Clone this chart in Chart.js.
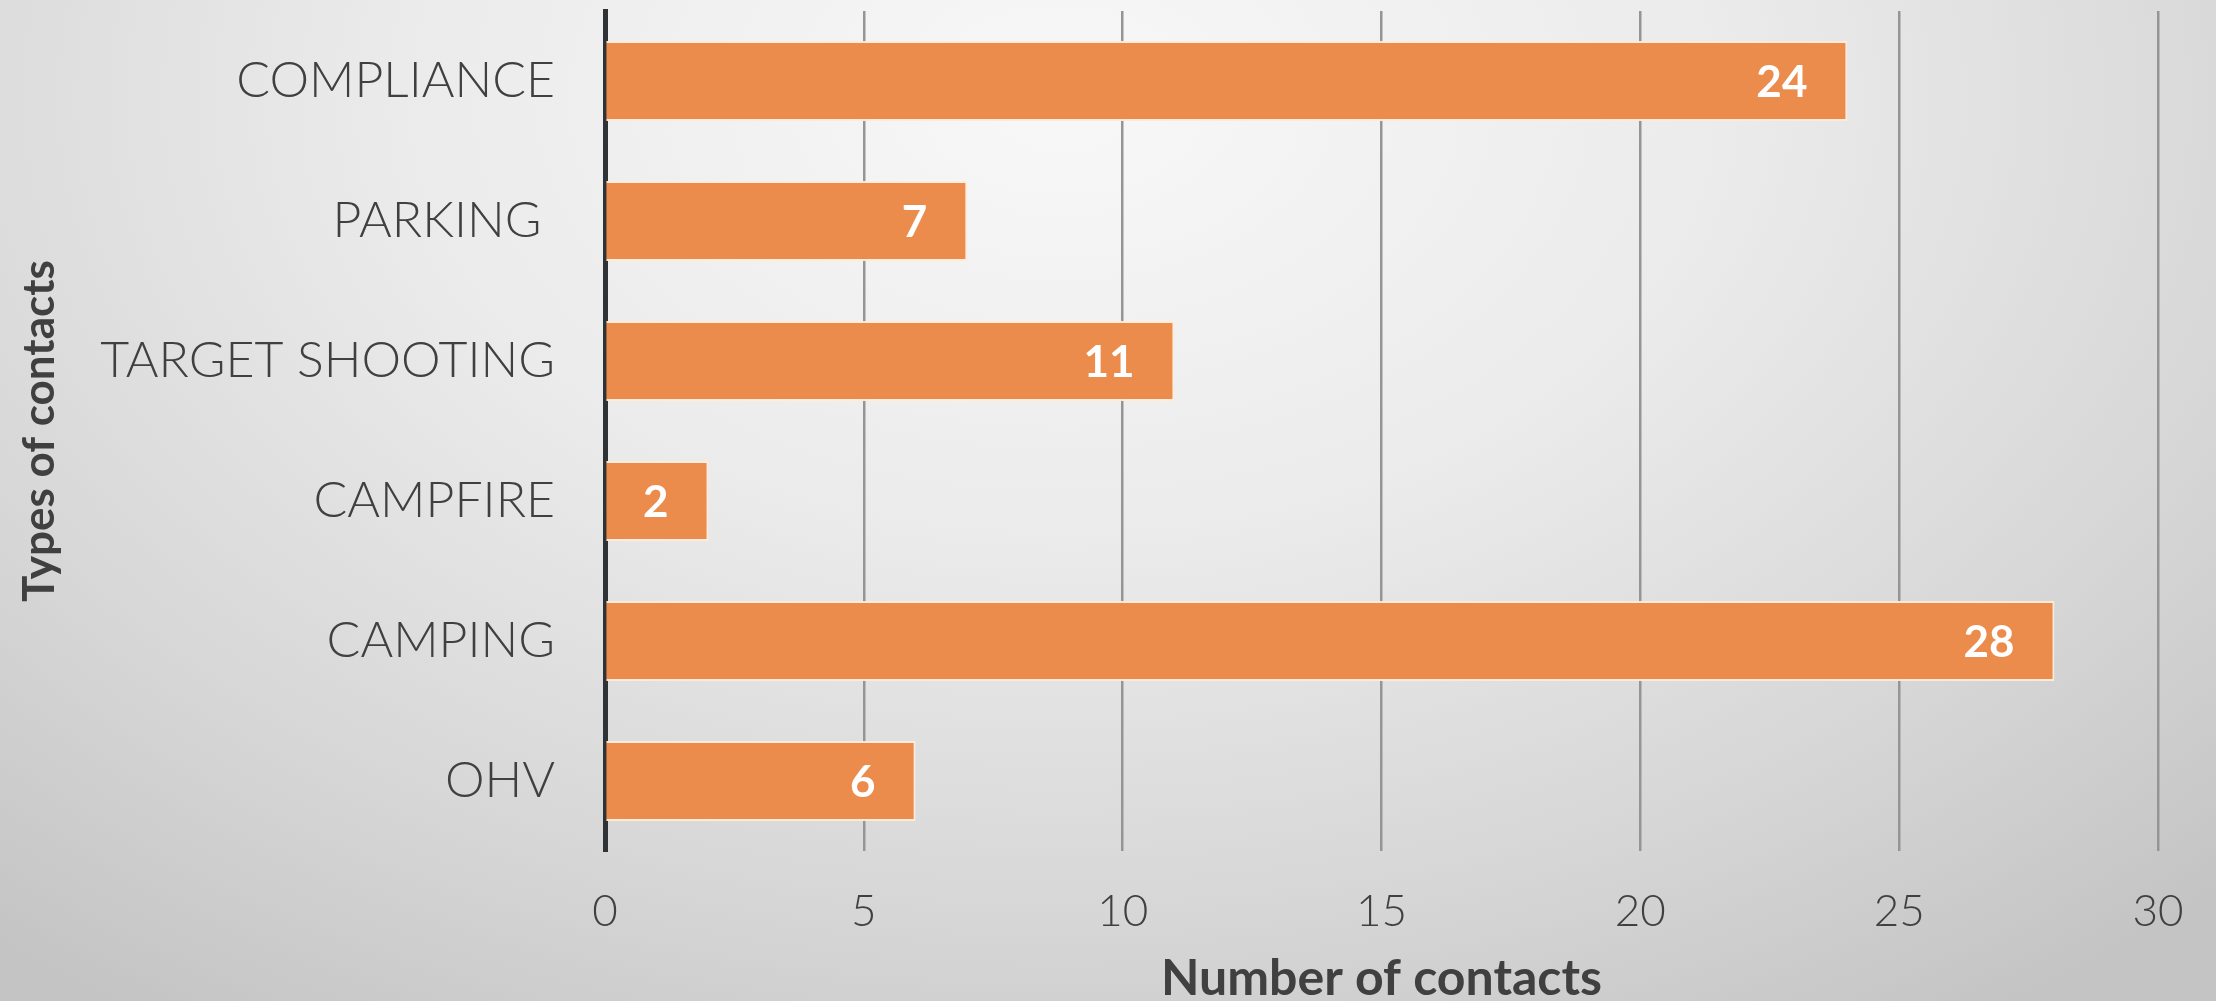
<!DOCTYPE html>
<html>
<head>
<meta charset="utf-8">
<script src="https://cdn.jsdelivr.net/npm/chart.js"></script>
<style>
  html, body { margin: 0; padding: 0; width: 2216px; height: 1001px; overflow: hidden; }
  body {
    background: radial-gradient(ellipse 75% 110% at 48% 10%, #f8f8f8 0%, #ebebeb 40%, #d6d6d6 75%, #c4c4c4 100%);
  }
  #wrap { position: relative; width: 2216px; height: 1001px; }
</style>
</head>
<body>
<div id="wrap"><canvas id="contacts"></canvas></div>
<script>
// data
const categories = ['COMPLIANCE', 'PARKING ', 'TARGET SHOOTING', 'CAMPFIRE', 'CAMPING', 'OHV'];
const contacts = [24, 7, 11, 2, 28, 6];
const xTicks = [0, 5, 10, 15, 20, 25, 30];

const textColor = '#404040';

// white numbers inside the end of each bar
const valueLabels = {
  id: 'valueLabels',
  afterDatasetsDraw(chart) {
    const c = chart.ctx;
    const meta = chart.getDatasetMeta(0);
    c.save();
    c.font = 'bold 44px Lato';
    c.fillStyle = '#ffffff';
    c.textAlign = 'right';
    c.textBaseline = 'middle';
    meta.data.forEach((bar, i) => {
      c.fillText(String(contacts[i]), bar.x - 40, bar.y + 2);
    });
    c.restore();
  }
};

const ctx = document.getElementById('contacts').getContext('2d');

const myChart = new Chart(ctx, {
  type: 'bar',
  data: {
    labels: categories,
    datasets: [{
      label: 'Number of contacts',
      data: contacts,
      backgroundColor: '#EB8C4C',
      borderColor: 'rgba(255, 236, 216, 0.95)',
      borderWidth: 2,
      borderSkipped: 'start',
      categoryPercentage: 1,
      barPercentage: 0.57
    }]
  },
  options: {
    indexAxis: 'y',
    responsive: true,
    maintainAspectRatio: false,
    animation: false,
    layout: { padding: { top: 11, right: 58, left: 0, bottom: 0 } },
    plugins: {
      legend: { display: false },
      tooltip: { enabled: false }
    },
    scales: {
      x: {
        min: 0,
        max: 30,
        afterBuildTicks: (scale) => { scale.ticks = xTicks.map(v => ({ value: v })); },
        afterFit: (scale) => {
          scale.height = 150;
          scale.paddingLeft = 0;
          scale.paddingRight = 0;
        },
        grid: {
          drawTicks: false,
          color: (c) => c.tick && c.tick.value === 0 ? 'rgba(0,0,0,0)' : '#959595',
          lineWidth: 2.5
        },
        border: { display: false },
        ticks: {
          padding: 34,
          color: textColor,
          font: { family: 'Lato', size: 44, weight: '300' }
        },
        title: {
          display: true,
          text: 'Number of contacts',
          color: textColor,
          font: { family: 'Lato', size: 50, weight: 'bold' },
          padding: { top: 0, bottom: -8 }
        }
      },
      y: {
        afterFit: (scale) => {
          scale.width = 605;
          scale.paddingTop = 0;
          scale.paddingBottom = 0;
        },
        grid: { display: false, drawTicks: false },
        border: { display: true, color: '#2f3336', width: 5 },
        ticks: {
          padding: 50,
          color: textColor,
          font: { family: 'Lato', size: 50, weight: '300' }
        },
        title: {
          display: true,
          text: 'Types of contacts',
          color: textColor,
          font: { family: 'Lato', size: 44, weight: 'bold' },
          padding: { top: 13, bottom: 0 }
        }
      }
    }
  },
  plugins: [valueLabels]
});
</script>
</body>
</html>
